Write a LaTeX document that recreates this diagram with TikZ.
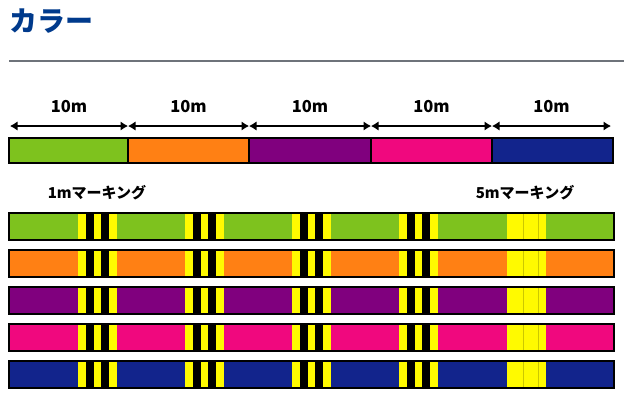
\documentclass[tikz,border=0pt]{standalone}
\usepackage{fontspec}
\setmainfont{Noto Sans CJK JP}
\usepackage{tikz}
\usetikzlibrary{arrows.meta}
\definecolor{ttlblue}{RGB}{0,58,140}
\definecolor{rulegray}{RGB}{110,115,122}
\definecolor{lgreen}{RGB}{126,194,30}
\definecolor{lorange}{RGB}{255,128,20}
\definecolor{lpurple}{RGB}{128,0,126}
\definecolor{lpink}{RGB}{240,8,126}
\definecolor{lnavy}{RGB}{18,36,140}
\definecolor{myellow}{RGB}{255,250,0}

\begin{document}
\begin{tikzpicture}[x=1pt, y=-1pt,
  ttl/.style={font=\bfseries\fontsize{28}{28}\selectfont, text=ttlblue, inner sep=0pt, anchor=west},
  lbl/.style={font=\bfseries\fontsize{16.5}{16.5}\selectfont, inner sep=0pt},
  mlbl/.style={font=\bfseries\fontsize{15}{15}\selectfont, inner sep=0pt},
  dimarr/.style={{Latex[length=7.5pt,width=9.5pt]}-{Latex[length=7.5pt,width=9.5pt]}, line width=1.4pt},
  seg/.style={draw=black, line width=1.6pt},
  frame/.style={draw=black, line width=2pt}]
\useasboundingbox (0,0) rectangle (624,397);

% heading
\node[ttl] (title) at (9,21) {カラー};
\draw[rulegray, line width=2pt] (9,61) -- (624,61);

% 10m sections
\foreach \xa/\xb/\c in {9/128/lgreen, 128/249/lorange, 249/371/lpurple, 371/492/lpink, 492/613/lnavy}
  \filldraw[seg, fill=\c] (\xa,138) rectangle (\xb,163);
\foreach \xv [count=\i from 0] in {10,128,249,371,492,611}
  \coordinate (d\i) at (\xv,126);
\foreach \i [evaluate=\i as \j using int(\i+1)] in {0,...,4}
  \draw[dimarr] (d\i) -- (d\j) node[midway, lbl, yshift=19pt] {10m};

% marking
\node[mlbl] (m1) at (97,193) {1mマーキング};
\node[mlbl] (m5) at (525,193) {5mマーキング};
\foreach \c [count=\r from 0] in {lgreen,lorange,lpurple,lpink,lnavy} {
  \pgfmathsetmacro{\yt}{213+37*\r}
  \fill[\c] (9,\yt) rectangle (614,\yt+27);
  \foreach \xg in {78,185,292,399} {
    \fill[myellow] (\xg,\yt) rectangle (\xg+39,\yt+27);
    \fill[black] (\xg+7.8,\yt) rectangle (\xg+15.6,\yt+27);
    \fill[black] (\xg+23.4,\yt) rectangle (\xg+31.2,\yt+27);
  }
  \fill[myellow] (507,\yt) rectangle (546,\yt+27);
  \draw[myellow!80!black, line width=0.5pt] (523,\yt) -- (523,\yt+27) (538,\yt) -- (538,\yt+27);
  \draw[frame] (9,\yt) rectangle (614,\yt+27);
}
\end{tikzpicture}
\end{document}
